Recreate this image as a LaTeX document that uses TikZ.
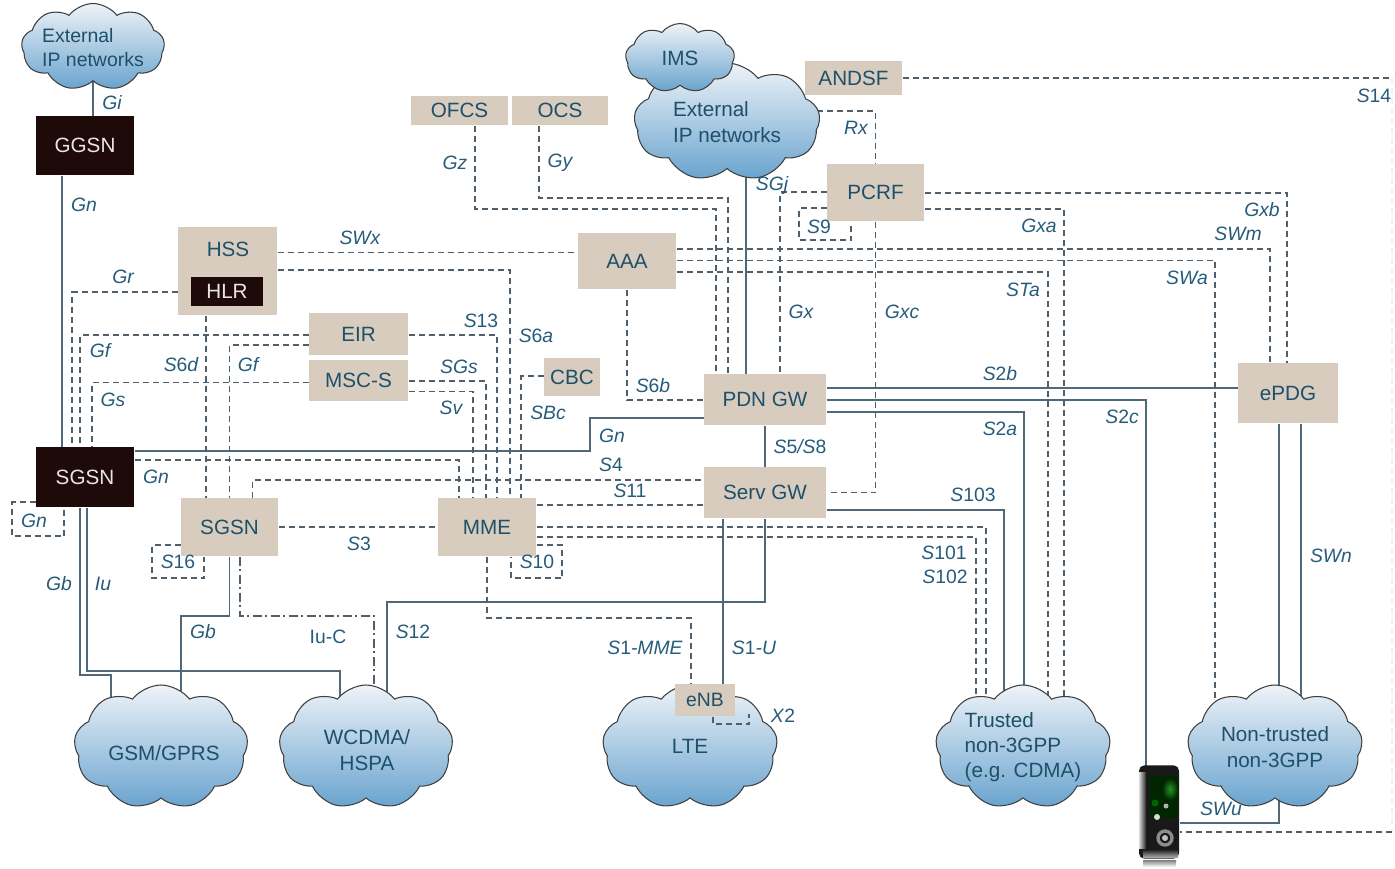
\documentclass[tikz,border=0pt]{standalone}
\usepackage{fontspec}
\setmainfont{Liberation Sans}
\usetikzlibrary{shapes.symbols}
\definecolor{boxbeige}{RGB}{216,204,190}
\definecolor{boxblack}{RGB}{30,10,8}
\definecolor{boxtext}{RGB}{30,80,105}
\definecolor{labtext}{RGB}{38,92,122}
\definecolor{solidcol}{RGB}{80,105,122}
\definecolor{dashcol}{RGB}{80,95,108}
\definecolor{cloudtop}{RGB}{238,243,248}
\definecolor{cloudbot}{RGB}{105,163,206}
\pgfdeclarelayer{background}
\pgfsetlayers{background,main}
\newcommand{\Sn}[1]{S\textup{#1}}
\tikzset{every picture/.style={line width=0.75pt}}
\tikzset{
    boxsize/.style 2 args={minimum width=#1*0.75pt,minimum height=#2*0.75pt},
    beigebox/.style={fill=boxbeige,text=boxtext,inner sep=0pt,font=\fontsize{15.5}{18}\selectfont},
    blackbox/.style={fill=boxblack,text=boxbeige!50!white,inner sep=0pt,font=\fontsize{15.5}{18}\selectfont},
    netcloud/.style={shape=cloud,cloud puffs=9,cloud puff arc=105,aspect=1.45,inner sep=0pt,shape border rotate=12,
        draw=black!75,line width=0.8pt,top color=cloudtop,bottom color=cloudbot},
    cloudlab/.style={text=boxtext,inner sep=0pt,align=center,font=\fontsize{15.5}{19}\selectfont},
    lab/.style={text=labtext,inner sep=0pt,font=\fontsize{14.5}{17}\selectfont\itshape},
    solidline/.style={draw=solidcol,line width=1.1pt},
    dashline/.style={draw=dashcol,line width=0.8pt,dash pattern=on 4.5pt off 3pt},
    dotline/.style={draw=dashcol,line width=0.8pt,dash pattern=on 7pt off 2.5pt on 1.5pt off 2.5pt}
}

\begin{document}
\begin{tikzpicture}[x=0.75pt,y=0.75pt,yscale=-1,xscale=1]
    \useasboundingbox (0,0) rectangle (1395,868);

    % Clouds
    \node[netcloud,boxsize={143}{87}] (extleft) at (93,47) {};
    \node[cloudlab,align=left,font=\fontsize{14.6}{18}\selectfont] (extleftlab) at (93,48) {External\\IP networks};
    \node[netcloud,boxsize={186}{118}] (extmain) at (727,122) {};
    \node[cloudlab,align=left] (extmainlab) at (727,122) {External\\IP networks};
    \node[netcloud,boxsize={109}{69}] (ims) at (680,58) {};
    \node[cloudlab] (imslab) at (680,58) {IMS};
    \node[netcloud,boxsize={174}{124}] (gsm) at (161,747) {};
    \node[cloudlab] (gsmlab) at (164,753) {GSM/GPRS};
    \node[netcloud,boxsize={174}{124}] (wcdma) at (366,747) {};
    \node[cloudlab] (wcdmalab) at (367,750) {WCDMA/\\HSPA};
    \node[netcloud,boxsize={175}{124}] (lte) at (690,747) {};
    \node[cloudlab] (ltelab) at (690,746) {LTE};
    \node[netcloud,boxsize={175}{124}] (trusted) at (1023,747) {};
    \node[cloudlab,align=left] (trustedlab) at (1023,747) {Trusted\\non-3GPP\\(e.g. CDMA)};
    \node[netcloud,boxsize={175}{124}] (nontrusted) at (1275,747) {};
    \node[cloudlab] (nontrustedlab) at (1275,747) {Non-trusted\\non-3GPP};

    % Boxes
    \node[blackbox,boxsize={98}{59}] (ggsn) at (85,145.5) {GGSN};
    \node[blackbox,boxsize={98}{60}] (sgsnold) at (85,477) {SGSN};
    \node[beigebox,boxsize={99}{88},text height=0pt] (hss) at (227.5,271) {};
    \node[text=boxtext,inner sep=0pt,font=\fontsize{15.5}{18}\selectfont] (hsslab) at (228,249) {HSS};
    \node[blackbox,boxsize={72}{29}] (hlr) at (227,291.5) {HLR};
    \node[beigebox,boxsize={99}{42}] (eir) at (358.5,334) {EIR};
    \node[beigebox,boxsize={99}{41}] (msc) at (358.5,380.5) {MSC-S};
    \node[beigebox,boxsize={97}{29}] (ofcs) at (459.5,110.5) {OFCS};
    \node[beigebox,boxsize={96}{29}] (ocs) at (560,110.5) {OCS};
    \node[beigebox,boxsize={97}{34}] (andsf) at (853.5,78) {ANDSF};
    \node[beigebox,boxsize={97}{57}] (pcrf) at (875.5,192.5) {PCRF};
    \node[beigebox,boxsize={98}{56}] (aaa) at (627,261) {AAA};
    \node[beigebox,boxsize={56}{38}] (cbc) at (572,377) {CBC};
    \node[beigebox,boxsize={122}{51}] (pdngw) at (765,399.5) {PDN GW};
    \node[beigebox,boxsize={122}{51}] (servgw) at (765,492.5) {Serv GW};
    \node[beigebox,boxsize={98}{58}] (mme) at (487,527) {MME};
    \node[beigebox,boxsize={97}{58}] (sgsn) at (229.5,527) {SGSN};
    \node[beigebox,boxsize={100}{60}] (epdg) at (1288,393) {ePDG};
    \node[beigebox,boxsize={60}{32},font=\fontsize{14.5}{17}\selectfont] (enb) at (705,700) {eNB};

    % Phone
    \node[fill=black!90,rounded corners=4pt,minimum width=30pt,minimum height=70pt,inner sep=0pt] (phone) at (1159,812) {};
    \shade[left color=black!15,right color=black!85] (1139,772) rectangle (1146,848);
    \shade[top color=black!85,bottom color=black!35] (1143,850) rectangle (1178,857);
    \shade[top color=black!50,bottom color=white] (1143,860) rectangle (1176,867);
    \fill[black!85!green] (1150,776) rectangle (1177,818);
    \shade[inner color=green!50!black!85!white,outer color=black!85!green] (1162,778) rectangle (1178,800);
    \fill[green!40!black] (1155,803) circle (3.5);
    \fill[black!15] (1157,817) circle (3);
    \fill[black!30] (1166,806) circle (2.5);
    \draw[black!45,line width=2.5pt] (1165,838) circle (7);
    \fill[black!25] (1165,838) circle (3);

    \begin{pgfonlayer}{background}
    %Straight Lines
    \draw[solidline] (extleft.center -| 93,0) -- (ggsn.north -| 93,0);
    \draw[solidline] (ggsn.south -| 62,0) -- (sgsnold.north -| 62,0);
    \draw[solidline] (sgsnold.east |- 0,451) -| (590,418) -- (pdngw.west |- 0,418);
    \draw[solidline] (sgsnold.south -| 80,0) |- (111,675) -- (gsm.center -| 111,0);
    \draw[solidline] (sgsnold.south -| 87,0) |- (340,671) -- (wcdma.center -| 340,0);
    \draw[solidline] (sgsn.south) |- (181,616) -- (gsm.center -| 181,0);
    \draw[solidline] (wcdma.center -| 387,0) |- (765,602) -- (servgw.south);
    \draw[solidline] (servgw.south -| 723,0) -- (enb.north -| 723,0);
    \draw[solidline] (pdngw.south) -- (servgw.north);
    \draw[solidline] (extmain.center -| 746,0) -- (pdngw.north -| 746,0);
    \draw[solidline] (pdngw.east |- 0,388) -- (epdg.west |- 0,388);
    \draw[solidline] (pdngw.east |- 0,400) -| (phone.center -| 1146,0);
    \draw[solidline] (pdngw.east |- 0,412) -| (trusted.center -| 1024,0);
    \draw[solidline] (servgw.east |- 0,510) -| (trusted.center -| 1004,0);
    \draw[solidline] (epdg.south -| 1279,0) |- (phone.east |- 0,823);
    \draw[solidline] (epdg.south -| 1301,0) -- (nontrusted.center -| 1301,0);

    %Dashed Lines
    \draw[dotline] (sgsn.south -| 240,0) |- (374,616) -- (wcdma.center -| 374,0);
    \draw[dashline] (hss.west |- 0,292) -| (sgsnold.north -| 72,0);
    \draw[dashline] (eir.west |- 0,335) -| (sgsnold.north -| 80,0);
    \draw[dashline] (eir.west |- 0,345) -| (sgsn.north);
    \draw[dashline] (msc.west |- 0,382.5) -| (sgsnold.north -| 92,0);
    \draw[dashline] (hss.south -| 206,0) -- (sgsn.north -| 206,0);
    \draw[dashline] (sgsnold.east |- 0,460) -| (mme.north -| 459,0);
    \draw[dashline] (sgsn.north -| 252.5,0) |- (servgw.west |- 0,480);
    \draw[dashline] (sgsn.east) -- (mme.west);
    \draw[dashline] (sgsn.west |- 0,545) -| (152,578) -| (sgsn.south -| 204,0);
    \draw[dashline] (sgsnold.west |- 0,502) -| (12,536) -| (sgsnold.south -| 64,0);
    \draw[dashline] (hss.east |- 0,252.5) -- (aaa.west |- 0,252.5);
    \draw[dashline] (hss.east |- 0,270) -| (mme.north -| 510,0);
    \draw[dashline] (eir.east |- 0,335) -| (mme.north -| 497,0);
    \draw[dashline] (msc.east |- 0,381) -| (mme.north -| 486,0);
    \draw[dashline] (msc.east |- 0,391.5) -| (mme.north -| 473,0);
    \draw[dashline] (cbc.west |- 0,376) -| (mme.north -| 521,0);
    \draw[dashline] (mme.east |- 0,505) -- (servgw.west |- 0,505);
    \draw[dashline] (mme.east |- 0,545) -| (562,578) -| (mme.south -| 511,0);
    \draw[dashline] (mme.east |- 0,527) -| (trusted.center -| 986,0);
    \draw[dashline] (mme.east |- 0,537) -| (trusted.center -| 976,0);
    \draw[dashline] (mme.south) |- (691,618) -- (enb.north -| 691,0);
    \draw[dashline] (aaa.south) |- (pdngw.west |- 0,400);
    \draw[dashline] (ofcs.south -| 475,0) |- (716,209) -- (pdngw.north -| 716,0);
    \draw[dashline] (ocs.south -| 539,0) |- (728,198) -- (pdngw.north -| 728,0);
    \draw[dashline] (extmain.center |- 0,111) -| (pcrf.north);
    \draw[dashline] (pcrf.west |- 0,192) -| (pdngw.north -| 780,0);
    \draw[dashline] (pcrf.west |- 0,208) -| (799,240) -| (pcrf.south -| 851,0);
    \draw[dashline] (pcrf.south) |- (servgw.east);
    \draw[dashline] (aaa.east |- 0,249) -| (epdg.north -| 1270,0);
    \draw[dashline] (aaa.east |- 0,260.5) -| (nontrusted.center -| 1215,0);
    \draw[dashline] (aaa.east |- 0,272) -| (trusted.center -| 1048,0);
    \draw[dashline] (pcrf.east |- 0,193) -| (epdg.north -| 1287,0);
    \draw[dashline] (pcrf.east |- 0,209) -| (trusted.center -| 1064,0);
    \coordinate (s14top) at (1392,78);
    \coordinate (s14low) at (1392,832);
    \draw[dashline] (andsf.east |- s14top) -- (s14top);
    \draw[dashline,draw=dashcol!8] (s14top) -- (s14low);
    \draw[dashline] (s14low) -- (phone.east |- s14low);
    \end{pgfonlayer}
    \draw[dashline] (enb.south -| 713,0) |- (749,724) -- (749,714);

    % Text Node
    \node[lab] (gi) at (112,103) {Gi};
    \node[lab] (gnggsn) at (84,205) {Gn};
    \node[lab] (swx) at (360,238) {SWx};
    \node[lab] (gr) at (123,277) {Gr};
    \node[lab] (gfleft) at (100,351) {Gf};
    \node[lab] (s6d) at (181,365) {\Sn{6}d};
    \node[lab] (gfmid) at (248,365) {Gf};
    \node[lab] (gs) at (113,400) {Gs};
    \node[lab] (s13) at (481,321) {\Sn{13}};
    \node[lab] (s6a) at (536,336) {\Sn{6}a};
    \node[lab] (sgs) at (459,367) {SGs};
    \node[lab] (sv) at (451,408) {Sv};
    \node[lab] (sbc) at (548,413) {SBc};
    \node[lab] (s6b) at (653,386) {\Sn{6}b};
    \node[lab] (gz) at (455,163) {Gz};
    \node[lab] (gy) at (560,163) {Gy};
    \node[lab] (rx) at (856,128) {Rx};
    \node[lab] (sgj) at (772,185) {SGj};
    \node[lab] (s9) at (819,227) {\Sn{9}};
    \node[lab] (gx) at (801,312) {Gx};
    \node[lab] (gxc) at (902,312) {Gxc};
    \node[lab] (s2b) at (1000,374) {\Sn{2}b};
    \node[lab] (s2a) at (1000,429) {\Sn{2}a};
    \node[lab] (s2c) at (1122,417) {\Sn{2}c};
    \node[lab] (gxa) at (1039,226) {Gxa};
    \node[lab] (sta) at (1023,290) {STa};
    \node[lab] (swa) at (1187,278) {SWa};
    \node[lab] (swm) at (1238,234) {SWm};
    \node[lab] (gxb) at (1262,210) {Gxb};
    \node[lab] (s14) at (1374,96) {\Sn{14}};
    \node[lab] (gnpdn) at (612,436) {Gn};
    \node[lab] (s5s8) at (800,447) {\Sn{5}/\Sn{8}};
    \node[lab] (s4) at (611,465) {\Sn{4}};
    \node[lab] (s11) at (630,491) {\Sn{11}};
    \node[lab] (gnmme) at (156,477) {Gn};
    \node[lab] (gnloop) at (34,521) {Gn};
    \node[lab] (s16) at (178,562) {\Sn{16}};
    \node[lab] (s10) at (537,562) {\Sn{10}};
    \node[lab] (s3) at (359,544) {\Sn{3}};
    \node[lab] (gbleft) at (59,584) {Gb};
    \node[lab] (iu) at (103,584) {Iu};
    \node[lab] (gbmid) at (203,632) {Gb};
    \node[lab] (iuc) at (328,637) {\textup{Iu-C}};
    \node[lab] (s12) at (413,632) {\Sn{12}};
    \node[lab] (s103) at (973,495) {\Sn{103}};
    \node[lab] (s101) at (944,553) {\Sn{101}};
    \node[lab] (s102) at (945,577) {\Sn{102}};
    \node[lab] (swn) at (1331,556) {SWn};
    \node[lab] (swu) at (1221,809) {SWu};
    \node[lab] (s1mme) at (645,648) {\Sn{1}-MME};
    \node[lab] (s1u) at (754,648) {\Sn{1}-U};
    \node[lab] (x2) at (783,716) {X\textup{2}};

\end{tikzpicture}
\end{document}
